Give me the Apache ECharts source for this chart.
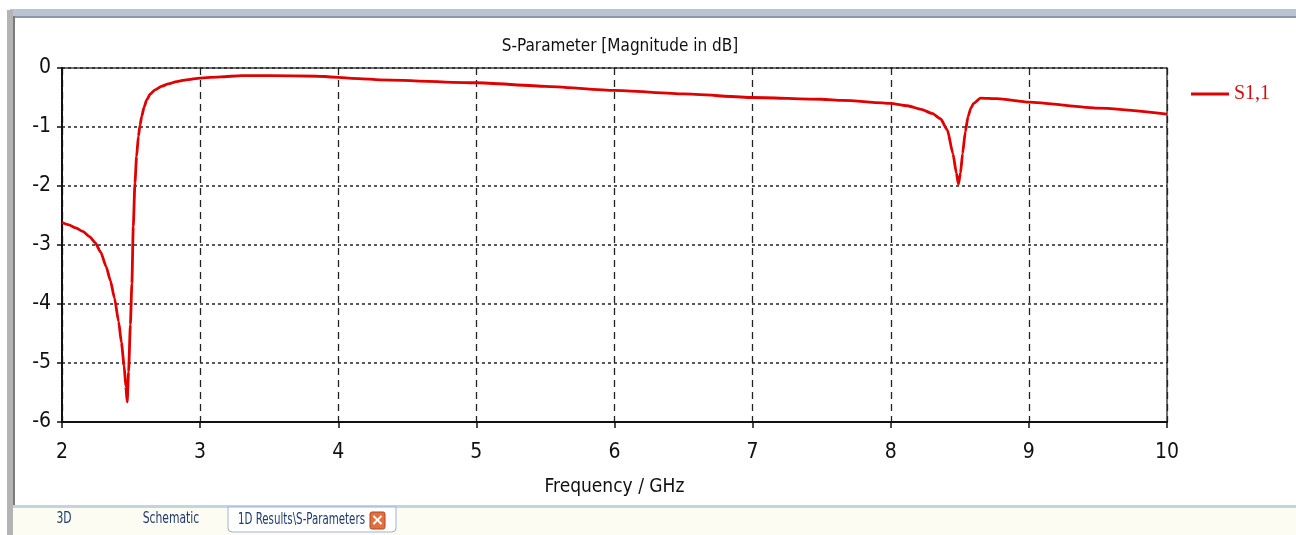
<!DOCTYPE html>
<html>
<head>
<meta charset="utf-8">
<script src="https://cdn.jsdelivr.net/npm/echarts@6/dist/echarts.min.js"></script>
<style>
html,body{margin:0;padding:0;background:#ffffff;}
#c{width:1296px;height:535px;}
</style>
</head>
<body>
<div id="c"></div>
<script>
var titleText = 'S-Parameter [Magnitude in dB]';
var xAxisName = 'Frequency / GHz';
var seriesName = 'S1,1';
var tabLabels = ['3D', 'Schematic', '1D Results\\S-Parameters'];
var xTicks = [2, 3, 4, 5, 6, 7, 8, 9, 10];
var yTicks = [0, -1, -2, -3, -4, -5, -6];

var freqGHz = [2.0, 2.05, 2.10, 2.15, 2.20, 2.24, 2.28, 2.32, 2.35, 2.38, 2.41, 2.43, 2.45, 2.462, 2.472, 2.482, 2.495, 2.506, 2.516, 2.528, 2.54, 2.553, 2.565, 2.577, 2.595, 2.613, 2.64, 2.673, 2.72, 2.77, 2.83, 2.9, 3.0, 3.15, 3.3, 3.5, 3.85, 4.15, 4.3, 5.0, 5.5, 6.0, 6.5, 7.0, 7.5, 7.65, 8.0, 8.12, 8.22, 8.3, 8.36, 8.41, 8.45, 8.475, 8.49, 8.505, 8.52, 8.54, 8.56, 8.58, 8.6, 8.65, 8.77, 9.0, 9.5, 10.0];
var s11dB = [-2.62, -2.66, -2.71, -2.77, -2.86, -2.96, -3.12, -3.37, -3.6, -3.9, -4.3, -4.65, -5.05, -5.4, -5.66, -5.15, -4.35, -3.65, -2.69, -1.95, -1.5, -1.16, -0.97, -0.82, -0.66, -0.54, -0.44, -0.37, -0.31, -0.27, -0.23, -0.20, -0.17, -0.15, -0.13, -0.13, -0.14, -0.18, -0.20, -0.25, -0.31, -0.38, -0.44, -0.50, -0.53, -0.55, -0.60, -0.64, -0.70, -0.77, -0.86, -1.05, -1.45, -1.78, -1.97, -1.78, -1.45, -1.08, -0.82, -0.68, -0.60, -0.51, -0.52, -0.58, -0.68, -0.78];

var narrow = '"Liberation Sans Narrow", "DejaVu Sans Condensed", "Open Sans", sans-serif';
var pts = freqGHz.map(function (f, i) { return [f, s11dB[i]]; });

var tabFont = '15px ' + narrow;
var chart = echarts.init(document.getElementById('c'), null, {renderer: 'canvas'});
chart.setOption({
  backgroundColor: '#ffffff',
  animation: false,
  title: {
    text: titleText,
    left: 615, top: 33, textAlign: 'center',
    textStyle: {fontFamily: narrow, fontSize: 17, fontWeight: 'normal', color: '#111'}
  },
  legend: {
    left: 1186, top: 79,
    icon: 'rect', itemWidth: 38, itemHeight: 3, itemGap: 5,
    data: [seriesName],
    textStyle: {fontFamily: '"Liberation Serif", "DejaVu Serif", serif', fontSize: 20, color: '#d01010'}
  },
  grid: {
    left: 62, right: 129, top: 68, bottom: 113,
    show: true, borderColor: '#444', borderWidth: 1.5, backgroundColor: '#ffffff'
  },
  xAxis: {
    type: 'value', min: xTicks[0], max: xTicks[xTicks.length - 1], interval: 1,
    name: xAxisName, nameLocation: 'middle', nameGap: 56,
    nameTextStyle: {fontFamily: narrow, fontSize: 19, color: '#111'},
    axisLine: {show: true, onZero: false, lineStyle: {color: '#111', width: 2}},
    axisTick: {show: true, length: 6, lineStyle: {color: '#111', width: 1.5}},
    axisLabel: {fontFamily: narrow, fontSize: 21, color: '#111', margin: 20},
    splitLine: {show: true, lineStyle: {color: '#222', width: 1.3, type: [7, 5]}}
  },
  yAxis: {
    type: 'value', min: yTicks[yTicks.length - 1], max: yTicks[0], interval: 1,
    axisLine: {show: true, onZero: false, lineStyle: {color: '#111', width: 2}},
    axisTick: {show: true, length: 5, lineStyle: {color: '#111', width: 1.5}},
    axisLabel: {fontFamily: narrow, fontSize: 21, color: '#111', margin: 11},
    splitLine: {show: true, lineStyle: {color: '#222', width: 1.5, type: [3, 3]}}
  },
  series: [{
    name: seriesName, type: 'line', data: pts,
    showSymbol: false, symbol: 'none',
    smooth: 0.2, smoothMonotone: 'x',
    itemStyle: {color: '#e00000'},
    lineStyle: {color: '#e00000', width: 2.8}
  }],
  graphic: [
    {type: 'rect', silent: true, shape: {x: 10, y: 9, width: 1286, height: 8}, style: {fill: '#b9c3d1'}},
    {type: 'rect', silent: true, shape: {x: 10, y: 16, width: 1286, height: 2}, style: {fill: '#8d97a6'}},
    {type: 'rect', silent: true, shape: {x: 7, y: 10, width: 6, height: 525}, style: {fill: '#b4b4b4'}},
    {type: 'rect', silent: true, shape: {x: 13, y: 16, width: 2, height: 491}, style: {fill: '#7a7a7a'}},
    {type: 'rect', silent: true, shape: {x: 13, y: 506, width: 1283, height: 29}, style: {fill: '#fcfcf2'}},
    {type: 'rect', silent: true, shape: {x: 13, y: 505, width: 1283, height: 3}, style: {fill: '#c6d2e2'}},
    {type: 'rect', silent: true, shape: {x: 228, y: 507, width: 168, height: 25, r: [0, 0, 4, 4]}, style: {fill: '#ffffff', stroke: '#9fb3cf', lineWidth: 1}},
    {type: 'text', silent: true, x: 64, y: 519, scaleX: 0.8, style: {x: 0, y: 0, text: tabLabels[0], align: 'center', verticalAlign: 'middle', font: tabFont, fill: '#1f3a6e'}},
    {type: 'text', silent: true, x: 171, y: 519, scaleX: 0.8, style: {x: 0, y: 0, text: tabLabels[1], align: 'center', verticalAlign: 'middle', font: tabFont, fill: '#1f3a6e'}},
    {type: 'text', silent: true, x: 238, y: 520, scaleX: 0.76, style: {x: 0, y: 0, text: tabLabels[2], align: 'left', verticalAlign: 'middle', font: tabFont, fill: '#1f3a6e'}},
    {type: 'rect', silent: true, shape: {x: 370, y: 512, width: 15, height: 17, r: 2}, style: {fill: '#e07040', stroke: '#b04820', lineWidth: 1}},
    {type: 'text', silent: true, style: {x: 377.5, y: 521, text: '×', align: 'center', verticalAlign: 'middle', font: 'bold 16px "DejaVu Sans", sans-serif', fill: '#ffffff'}}
  ]
});
</script>
</body>
</html>
